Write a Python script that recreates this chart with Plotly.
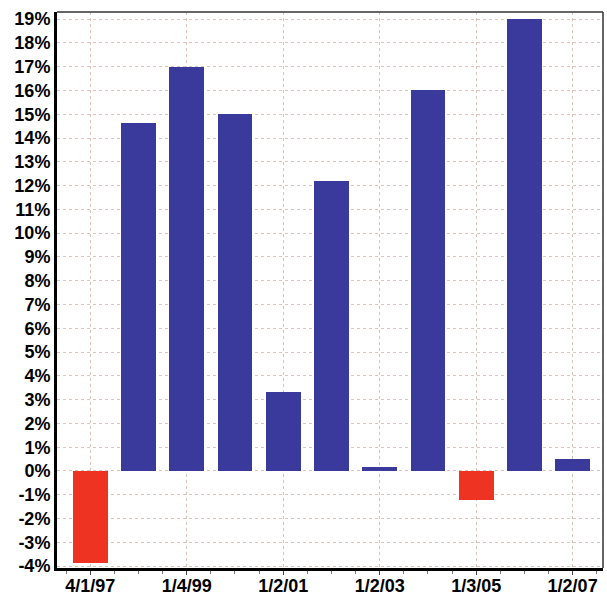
import plotly.graph_objects as go

dates = ["4/1/97", "1/5/98", "1/4/99", "1/3/00", "1/2/01", "1/2/02",
         "1/2/03", "1/2/04", "1/3/05", "1/3/06", "1/2/07"]
returns = [-3.87, 14.65, 17.0, 15.03, 3.33, 12.2, 0.15, 16.0, -1.2, 19.0, 0.52]
tick_labels = ["4/1/97", "1/4/99", "1/2/01", "1/2/03", "1/3/05", "1/2/07"]
y_ticks = list(range(-4, 20))

x = list(range(len(dates)))
colors = ["#ee3322" if v < 0 else "#3a3a9c" for v in returns]

fig = go.Figure(go.Bar(x=x, y=returns, marker=dict(color=colors, line=dict(width=0)),
                       width=0.72, hovertext=dates))

grid = "#d9c5bd"
fig.update_layout(
    width=607, height=597,
    margin=dict(l=57, r=4, t=12, b=29),
    plot_bgcolor="white", paper_bgcolor="white",
    showlegend=False,
    bargap=0,
    font=dict(family="Liberation Sans, Arial", color="black"),
)
fig.update_xaxes(
    automargin=False,
    range=[-0.69, 10.63],
    tickmode="array", tickvals=[0, 2, 4, 6, 8, 10], ticktext=tick_labels,
    tickfont=dict(size=18, weight="bold"),
    ticklabelstandoff=-5,
    showgrid=True, gridcolor=grid, griddash="3px,3px", gridwidth=1,
    showline=True, linecolor="black", linewidth=3, mirror=False,
    ticks="outside", ticklen=4, tickcolor="#444",
    minor=dict(tickvals=[i * 0.5 for i in range(-1, 22)], ticks="outside", ticklen=3, tickcolor="#777", showgrid=False),
    zeroline=False,
)
fig.update_yaxes(
    automargin=False,
    range=[-4.08, 19.3],
    tickmode="array", tickvals=y_ticks, ticktext=[f"{v}%" for v in y_ticks],
    tickfont=dict(size=18, weight="bold"),
    showgrid=True, gridcolor=grid, griddash="3px,3px", gridwidth=1,
    showline=True, linecolor="black", linewidth=3,
    ticks="", ticklen=0,
    zeroline=False,
)
# thin top and right frame
fig.add_shape(type="line", xref="paper", yref="paper", x0=0, x1=1, y0=1, y1=1,
              line=dict(color="#333", width=1.5))
fig.add_shape(type="line", xref="paper", yref="paper", x0=1, x1=1, y0=0, y1=1,
              line=dict(color="#333", width=1.5))

fig.write_html("out.html", config={"displayModeBar": False},
               post_script="document.body.style.margin='0';document.body.style.overflow='hidden';")
